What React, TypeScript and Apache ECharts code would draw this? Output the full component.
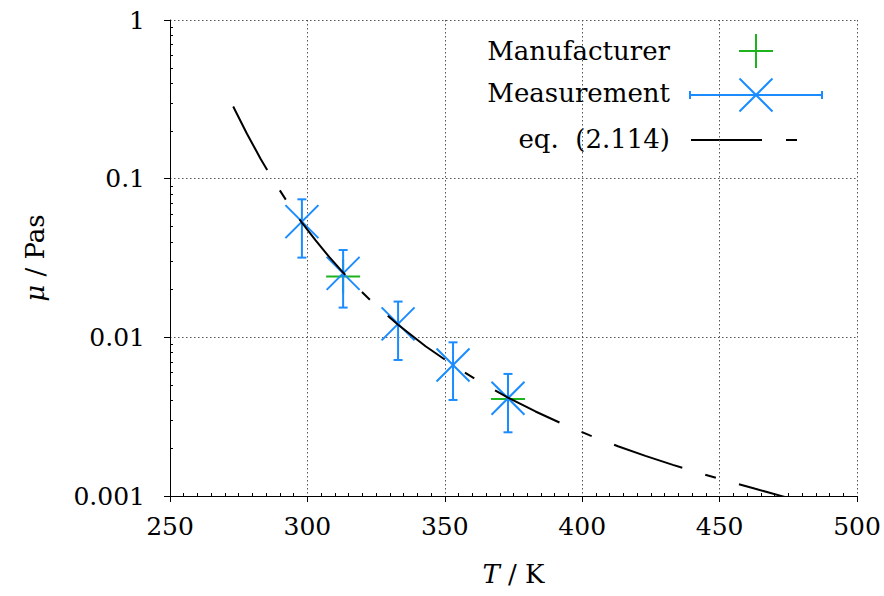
import React, { useEffect, useRef } from "react";
import * as echarts from "echarts";

// ---- data ----
const xTickLabels = ["250", "300", "350", "400", "450", "500"];
const yTickLabels = ["0.001", "0.01", "0.1", "1"];

// Measurement (blue x with error bars)
const measT = [298, 313, 333, 353, 373];
const measMu = [0.0536, 0.0253, 0.01215, 0.0067, 0.00413];
const measLo = [0.0318, 0.0154, 0.0072, 0.00403, 0.00252];
const measHi = [0.0741, 0.0355, 0.0168, 0.0093, 0.00588];

// Manufacturer (green +)
const manuT = [313, 373];
const manuMu = [0.0242, 0.00408];

// eq. (2.114) curve
const curveT = [273, 278, 283, 288, 293, 298, 303, 308, 313, 318, 323, 328, 333, 343, 353, 363, 373, 383, 393, 403, 413, 423, 433, 443, 453, 463, 473, 478];
const curveMu = [0.285, 0.192, 0.133, 0.0953, 0.07, 0.0528, 0.0408, 0.032, 0.0256, 0.0207, 0.0171, 0.0143, 0.012, 0.00879, 0.00667, 0.00521, 0.00417, 0.00341, 0.00284, 0.0024, 0.00206, 0.00179, 0.00157, 0.00139, 0.00124, 0.00111, 0.000995, 0.00094];

const FONT = "'DejaVu Serif', serif";
const FS = 25; // tick labels
const FL = 26; // legend and axis titles
const BLUE = "#1a8cff";
const GREEN = "#1db31d";

export default function App() {
  const ref = useRef<HTMLDivElement>(null);

  useEffect(() => {
    if (!ref.current) return;
    const chart = echarts.init(ref.current, null, { renderer: "svg" });

    const minorX: number[] = [];
    for (let v = 255; v < 500; v += 5) if (v % 50 !== 0) minorX.push(v);
    const minorY: number[] = [];
    for (let d = -3; d < 0; d++) for (let k = 2; k <= 9; k++) minorY.push(k * Math.pow(10, d));

    const measData = measT.map((t, i) => [t, measMu[i], measLo[i], measHi[i]]);
    const manuData = manuT.map((t, i) => [t, manuMu[i]]);
    const curveData = curveT.map((t, i) => [t, curveMu[i]]);

    const dotted = { color: "#555", width: 1, type: [1.5, 2.5] as any };

    const option: any = {
      animation: false,
      backgroundColor: "#fff",
      textStyle: { fontFamily: FONT },
      grid: { left: 170, right: 27, top: 20, bottom: 100, containLabel: false, outerBoundsMode: "none" },
      xAxis: [
        {
          type: "value",
          min: 250,
          max: 500,
          interval: 50,
          axisLine: { show: true, onZero: false, lineStyle: { color: "#000", width: 1 } },
          axisTick: { show: true, inside: false, length: 6, lineStyle: { color: "#000" } },
          splitLine: { show: true, lineStyle: dotted },
          axisLabel: {
            fontFamily: FONT,
            fontSize: FS,
            color: "#000",
            margin: 18,
            formatter: (v: number) => xTickLabels[Math.round((v - 250) / 50)] ?? "",
          },
          name: "{i|T} / K",
          nameLocation: "middle",
          nameGap: 65,
          nameTextStyle: {
            fontFamily: FONT,
            fontSize: FL,
            color: "#000",
            rich: { i: { fontFamily: FONT, fontSize: FL, fontStyle: "italic", color: "#000" } },
          },
        },
        {
          type: "value",
          min: 250,
          max: 500,
          position: "bottom",
          axisLine: { show: false, onZero: false },
          axisLabel: { show: false },
          splitLine: { show: false },
          axisTick: { show: true, inside: true, length: 3, customValues: minorX, lineStyle: { color: "#000" } },
        },
      ],
      yAxis: [
        {
          type: "log",
          logBase: 10,
          min: 0.001,
          max: 1,
          axisLine: { show: true, onZero: false, lineStyle: { color: "#000", width: 1 } },
          axisTick: { show: true, inside: false, length: 6, lineStyle: { color: "#000" } },
          splitLine: { show: true, lineStyle: dotted },
          axisLabel: {
            fontFamily: FONT,
            fontSize: FS,
            color: "#000",
            margin: 25,
            formatter: (v: number) => yTickLabels[Math.round(Math.log10(v)) + 3] ?? "",
          },
          name: "{i|μ} / Pas",
          nameLocation: "middle",
          nameRotate: 90,
          nameGap: 122,
          nameTextStyle: {
            fontFamily: FONT,
            fontSize: FL,
            color: "#000",
            rich: { i: { fontFamily: FONT, fontSize: FL, fontStyle: "italic", color: "#000" } },
          },
        },
        {
          type: "log",
          logBase: 10,
          min: 0.001,
          max: 1,
          position: "left",
          axisLine: { show: false, onZero: false },
          axisLabel: { show: false },
          splitLine: { show: false },
          axisTick: { show: true, inside: true, length: 3, customValues: minorY, lineStyle: { color: "#000" } },
        },
      ],
      series: [
        {
          name: "Manufacturer",
          type: "custom",
          xAxisIndex: 0,
          yAxisIndex: 0,
          data: manuData,
          encode: { x: 0, y: 1 },
          renderItem: (params: any, api: any) => {
            const c = api.coord([api.value(0), api.value(1)]);
            const h = 17;
            const st = { stroke: GREEN, lineWidth: 2 };
            return {
              type: "group",
              children: [
                { type: "line", shape: { x1: c[0] - h, y1: c[1], x2: c[0] + h, y2: c[1] }, style: st },
                { type: "line", shape: { x1: c[0], y1: c[1] - h, x2: c[0], y2: c[1] + h }, style: st },
              ],
            };
          },
        },
        {
          name: "Measurement",
          type: "custom",
          xAxisIndex: 0,
          yAxisIndex: 0,
          data: measData,
          encode: { x: 0, y: [1, 2, 3] },
          renderItem: (params: any, api: any) => {
            const t = api.value(0);
            const c = api.coord([t, api.value(1)]);
            const lo = api.coord([t, api.value(2)]);
            const hi = api.coord([t, api.value(3)]);
            const s = 16.5;
            const cap = 4.5;
            const st = { stroke: BLUE, lineWidth: 2 };
            return {
              type: "group",
              children: [
                { type: "line", shape: { x1: c[0], y1: lo[1], x2: c[0], y2: hi[1] }, style: st },
                { type: "line", shape: { x1: c[0] - cap, y1: lo[1], x2: c[0] + cap, y2: lo[1] }, style: st },
                { type: "line", shape: { x1: c[0] - cap, y1: hi[1], x2: c[0] + cap, y2: hi[1] }, style: st },
                { type: "line", shape: { x1: c[0] - s, y1: c[1] - s, x2: c[0] + s, y2: c[1] + s }, style: st },
                { type: "line", shape: { x1: c[0] - s, y1: c[1] + s, x2: c[0] + s, y2: c[1] - s }, style: st },
              ],
            };
          },
        },
        {
          name: "eq. (2.114)",
          type: "line",
          xAxisIndex: 0,
          yAxisIndex: 0,
          data: curveData,
          showSymbol: false,
          symbol: "none",
          smooth: false,
          clip: true,
          lineStyle: { color: "#000", width: 2, type: [72, 24, 11, 24] },
        },
      ],
      graphic: [
        {
          type: "group",
          children: [
            { type: "text", x: 670, y: 51, style: { text: "Manufacturer", fontFamily: FONT, fontSize: FL, fill: "#000", align: "right", verticalAlign: "middle" } },
            { type: "line", shape: { x1: 739, y1: 51, x2: 773, y2: 51 }, style: { stroke: GREEN, lineWidth: 2 } },
            { type: "line", shape: { x1: 756, y1: 34, x2: 756, y2: 68 }, style: { stroke: GREEN, lineWidth: 2 } },

            { type: "text", x: 670, y: 93, style: { text: "Measurement", fontFamily: FONT, fontSize: FL, fill: "#000", align: "right", verticalAlign: "middle" } },
            { type: "line", shape: { x1: 690, y1: 95, x2: 822, y2: 95 }, style: { stroke: BLUE, lineWidth: 2 } },
            { type: "line", shape: { x1: 690, y1: 91, x2: 690, y2: 99 }, style: { stroke: BLUE, lineWidth: 2 } },
            { type: "line", shape: { x1: 822, y1: 91, x2: 822, y2: 99 }, style: { stroke: BLUE, lineWidth: 2 } },
            { type: "line", shape: { x1: 739.5, y1: 78.5, x2: 772.5, y2: 111.5 }, style: { stroke: BLUE, lineWidth: 2 } },
            { type: "line", shape: { x1: 739.5, y1: 111.5, x2: 772.5, y2: 78.5 }, style: { stroke: BLUE, lineWidth: 2 } },

            { type: "text", x: 670, y: 139, style: { text: "eq.  (2.114)", fontFamily: FONT, fontSize: FL, fill: "#000", align: "right", verticalAlign: "middle" } },
            { type: "line", shape: { x1: 691, y1: 140, x2: 762, y2: 140 }, style: { stroke: "#000", lineWidth: 2 } },
            { type: "line", shape: { x1: 786, y1: 140, x2: 797, y2: 140 }, style: { stroke: "#000", lineWidth: 2 } },
          ],
        },
      ],
    };

    chart.setOption(option);
    return () => chart.dispose();
  }, []);

  return <div ref={ref} style={{ width: 884, height: 596, position: "absolute", left: 0, top: 0 }} />;
}
